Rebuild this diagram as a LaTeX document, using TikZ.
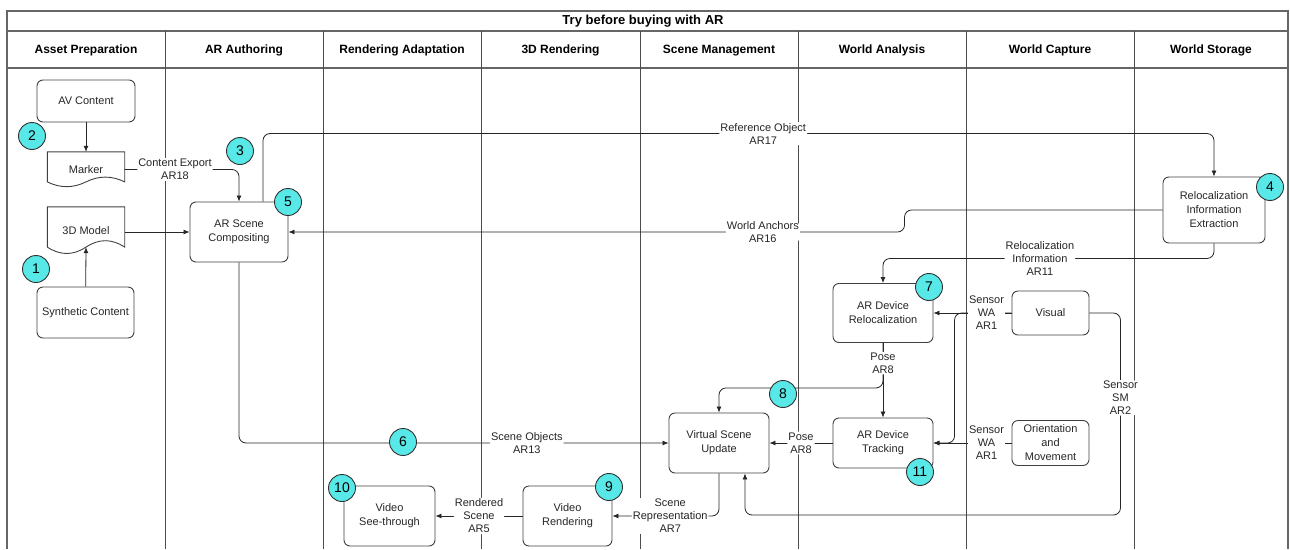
\documentclass[tikz,border=0pt]{standalone}
\usepackage{fontspec}
\setmainfont{Liberation Sans}
\usetikzlibrary{arrows.meta,calc}

\definecolor{badgecyan}{RGB}{88,232,232}

% outline of a document shape (wavy bottom) round a named node
\newcommand{\docoutline}[1]{%
  \draw[boxline] let \p1=(#1.north west), \p2=(#1.south east),
      \n1={\x2-\x1}, \n2={\y1-\y2} in
    (\x1,\y1) -- (\x2,\y1) -- (\x2,{\y2+0.15*\n2})
    .. controls ({\x2-\n1/6},{\y2+0.33*\n2}) and ({\x1+2*\n1/3},{\y2+0.33*\n2}) .. ({\x1+\n1/2},{\y2+0.15*\n2})
    .. controls ({\x1+\n1/3},{\y2-0.03*\n2}) and ({\x1+\n1/6},{\y2-0.03*\n2}) .. (\x1,{\y2+0.15*\n2}) -- cycle;}

\begin{document}
\begin{tikzpicture}[x=1pt,y=-1pt,
  frame/.style={draw=black!60, line width=1.3pt},
  lane/.style={draw=black!70, line width=1pt},
  head/.style={font=\bfseries\fontsize{12}{14}\selectfont, text height=9pt, text depth=3pt},
  boxline/.style={draw=black!75, line width=0.9pt},
  box/.style={boxline, rounded corners=6pt, align=center, inner sep=1pt,
    font=\fontsize{11}{14}\selectfont, text=black!85},
  docbox/.style={rectangle, minimum width=77pt, inner sep=0pt, align=center,
    font=\fontsize{11}{14}\selectfont, text=black!85},
  badge/.style={circle, draw=black!80, line width=0.9pt, fill=badgecyan,
    minimum size=27pt, inner sep=0pt, font=\fontsize{14}{14}\selectfont},
  conn/.style={draw=black!85, line width=0.8pt, rounded corners=7pt,
    -{Latex[length=6pt,width=5pt]}},
  lbl/.style={fill=white, align=center, inner sep=1pt,
    font=\fontsize{11}{13}\selectfont, text=black!85}]
  \useasboundingbox (0,0) rectangle (1290,549);

  % swimlanes
  \draw[frame] (7,549) -- (7,11) -- (1288,11) -- (1288,549);
  \draw[frame] (7,31) -- (1288,31);
  \draw[frame] (7,68) -- (1288,68);
  \foreach \x in {165,323,481,640,798,966,1134}
    \draw[lane] (\x,31) -- (\x,549);
  \node[font=\bfseries\fontsize{13}{15}\selectfont, text height=9.5pt, text depth=3pt] (title) at (643,21) {Try before buying with AR};
  \foreach \x/\t [count=\i] in {86/Asset Preparation, 244/AR Authoring,
      402/Rendering Adaptation, 560.5/3D Rendering, 719/Scene Management,
      882/World Analysis, 1050/World Capture, 1211/World Storage}
    \node[head] (h\i) at (\x,50) {\t};

  % boxes
  \node[box, minimum width=98pt, minimum height=42pt] (av) at (86,101) {AV Content};
  \node[docbox, minimum height=35pt] (marker) at (86,169.5) {Marker};
  \docoutline{marker}
  \node[docbox, minimum height=47pt] (model) at (86,230.5) {3D Model};
  \docoutline{model}
  \node[box, minimum width=97pt, minimum height=51pt] (synth) at (85.5,312.5) {Synthetic Content};
  \node[box, minimum width=98pt, minimum height=60pt] (arsc) at (239,232) {AR Scene\\Compositing};
  \node[box, minimum width=102pt, minimum height=66pt] (reloc) at (1214,210) {Relocalization\\Information\\Extraction};
  \node[box, minimum width=100pt, minimum height=59pt] (devreloc) at (883,313) {AR Device\\Relocalization};
  \node[box, minimum width=77pt, minimum height=44pt] (visual) at (1050.5,313) {Visual};
  \node[box, minimum width=100pt, minimum height=50pt] (tracking) at (883,443) {AR Device\\Tracking};
  \node[box, minimum width=77pt, minimum height=45pt] (orient) at (1050.5,443) {Orientation\\and\\Movement};
  \node[box, minimum width=100pt, minimum height=60pt] (vsu) at (719,443) {Virtual Scene\\Update};
  \node[box, minimum width=89pt, minimum height=60pt] (vrender) at (567.5,516) {Video\\Rendering};
  \node[box, minimum width=91pt, minimum height=60pt] (vsee) at (389.5,516) {Video\\See-through};

  % connectors
  \draw[conn] (av) -- (marker);
  \draw[conn] (synth) -- ($(model.south)+(0,-7)$);
  \draw[conn] (marker.east) -| node[lbl, pos=0.22] {Content Export\\AR18} (arsc.north);
  \draw[conn] (model.east |- arsc.west) -- (arsc.west);
  \draw[conn] ($(arsc.north)+(24,0)$) -- ++(0,-68) -| node[lbl, pos=0.263] {Reference Object\\AR17} (reloc.north);
  \draw[conn] (reloc.west) -- ++(-258,0) |- node[lbl, pos=0.615] {World Anchors\\AR16} (arsc.east);
  \draw[conn] (reloc.south) -- ++(0,15) -| node[lbl, pos=0.263] {Relocalization\\Information\\AR11} (devreloc.north);
  \draw[conn] (visual.west) -- ++(-57,0) |- (tracking.east);
  \draw[conn] (visual) -- node[lbl, pos=0.32] {Sensor\\WA\\AR1} (devreloc);
  \draw[conn] (orient) -- node[lbl, pos=0.32] {Sensor\\WA\\AR1} (tracking);
  \draw[conn] (visual.east) -- ++(31,0) -- node[lbl, pos=0.42] {Sensor\\SM\\AR2} ++(0,202) -| ($(vsu.south)+(26,0)$);
  \draw[conn] (devreloc.south) -- ++(0,45) -| (vsu.north);
  \draw[conn] (devreloc) -- node[lbl, pos=0.27] {Pose\\AR8} (tracking);
  \draw[conn] (tracking) -- node[lbl] {Pose\\AR8} (vsu);
  \draw[conn] (arsc.south) |- node[lbl, pos=0.835] {Scene Objects\\AR13} (vsu.west);
  \draw[conn] (vsu.south) |- node[lbl, pos=0.729] {Scene\\Representation\\AR7} (vrender.east);
  \draw[conn] (vrender) -- node[lbl] {Rendered\\Scene\\AR5} (vsee);

  % step numbers
  \node[badge] (b1) at (36,269) {1};
  \node[badge] (b2) at (32,136) {2};
  \node[badge] (b3) at (240,151) {3};
  \node[badge] (b4) at (1270,187) {4};
  \node[badge] (b5) at (288,202) {5};
  \node[badge] (b6) at (403,442) {6};
  \node[badge] (b7) at (929,287) {7};
  \node[badge] (b8) at (783,394) {8};
  \node[badge] (b9) at (609,487) {9};
  \node[badge] (b10) at (342,488) {10};
  \node[badge] (b11) at (920,472) {11};
\end{tikzpicture}
\end{document}
